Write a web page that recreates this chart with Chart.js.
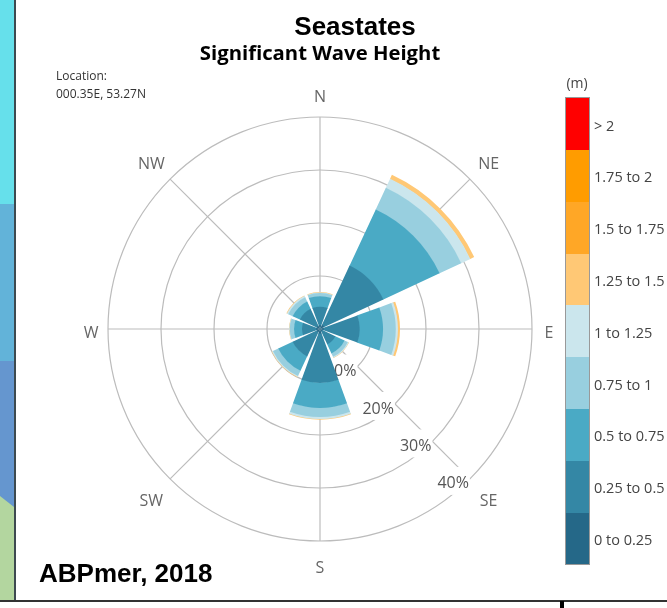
<!DOCTYPE html>
<html>
<head>
<meta charset="utf-8">
<title>Seastates</title>
<script src="https://cdn.jsdelivr.net/npm/chart.js@4/dist/chart.umd.min.js"></script>
<style>
  html, body { margin: 0; padding: 0; background: #fff; }
  #hoja { position: relative; width: 667px; height: 608px; overflow: hidden; }
  #hoja div { position: absolute; white-space: nowrap; }
  canvas { position: absolute; left: 0; top: 0; }
  .centrado { transform: translateX(-50%); }
  .negrita { font-family: "Liberation Sans", sans-serif; font-weight: bold; color: #000; }
  .suave { font-family: "Open Sans", sans-serif; color: #444; }
</style>
</head>
<body>
<div id="hoja">
  <div style="left:0;top:0;width:14px;height:204px;background:#66e0eb"></div>
  <div style="left:0;top:204px;width:14px;height:157px;background:#62b3d9"></div>
  <div style="left:0;top:361px;width:14px;height:147px;background:#6596cf"></div>
  <div style="left:0;top:496px;width:14px;height:105px;background:#b3d69f;clip-path:polygon(0 0,100% 11px,100% 100%,0 100%)"></div>
  <div style="left:14px;top:0;width:2px;height:601px;background:#3d4a50"></div>
  <div style="left:0;top:600px;width:667px;height:2px;background:#333"></div>
  <div style="left:560px;top:601px;width:4px;height:7px;background:#000"></div>

  <canvas id="graficoRosa" width="667" height="608"></canvas>

  <div class="negrita centrado" style="left:355px;top:11px;font-size:26px;line-height:30px">Seastates</div>
  <div class="centrado" style="left:320px;top:39px;font-family:'Open Sans',sans-serif;font-weight:bold;font-size:20.3px;line-height:26px;color:#000">Significant Wave Height</div>
  <div class="suave" style="left:56px;top:67px;font-size:12px;line-height:18px;color:#333">Location:<br>000.35E, 53.27N</div>
  <div class="negrita" style="left:39px;top:558px;font-size:26px;line-height:30px">ABPmer, 2018</div>
  <div class="suave centrado" style="left:577px;top:74px;font-size:14px;line-height:18px">(m)</div>
  <div id="leyenda"></div>
</div>

<script>
var direcciones = ["N", "NE", "E", "SE", "S", "SW", "W", "NW"];
var marcasPorcentaje = [10, 20, 30, 40];

var bandas = ["0 to 0.25", "0.25 to 0.5", "0.5 to 0.75", "0.75 to 1", "1 to 1.25",
  "1.25 to 1.5", "1.5 to 1.75", "1.75 to 2", "> 2"];
var colores = ["#256888", "#3487a5", "#4aaac5", "#98cfdf", "#cbe6ed",
  "#ffc875", "#ffa726", "#ff9c00", "#ff0000"];

// Porcentaje de tiempo por direccion (N, NE, E, SE, S, SW, W, NW), una lista por banda
var banda0 = [0.7, 0.9, 0.7, 0.5, 0.9, 0.7, 0.7, 0.7];
var banda1 = [3.5, 12.3, 6.8, 2.7, 9.3, 5.0, 2.7, 3.5];
var banda2 = [2.0, 11.7, 4.4, 1.9, 4.7, 3.0, 1.5, 1.5];
var banda3 = [0.6, 4.5, 2.4, 0.7, 1.7, 1.1, 0.8, 0.9];
var banda4 = [0.1, 1.9, 0.4, 0.2, 0.4, 0.2, 0.1, 0.3];
var banda5 = [0.1, 0.8, 0.4, 0.05, 0.1, 0.1, 0.05, 0.1];
var banda6 = [0, 0, 0, 0, 0, 0, 0, 0];
var banda7 = [0, 0, 0, 0, 0, 0, 0, 0];
var banda8 = [0, 0, 0, 0, 0, 0, 0, 0];
var valoresBandas = [banda0, banda1, banda2, banda3, banda4, banda5, banda6, banda7, banda8];

var anguloSector = 40;
var anguloHueco = 5;

// Polar area no apila: cada dataset llega hasta el acumulado de su banda.
// Las posiciones impares son los huecos blancos entre sectores.
function construirDatasets() {
  var datasets = [];
  var acumulado = [0, 0, 0, 0, 0, 0, 0, 0];
  for (let i = 0; i < valoresBandas.length; i++) {
    var datos = [];
    for (let d = 0; d < direcciones.length; d++) {
      acumulado[d] += valoresBandas[i][d];
      datos.push(valoresBandas[i][d] > 0 ? acumulado[d] : 0);
      datos.push(0);
    }
    datasets.push({
      label: bandas[i],
      data: datos,
      backgroundColor: colores[i],
      borderWidth: 0,
      angle: function (ctx) {
        return ctx.dataIndex % 2 ? anguloHueco : anguloSector;
      },
    });
  }
  return datasets;
}

function construirEtiquetas() {
  var etiquetas = [];
  for (let d = 0; d < direcciones.length; d++) {
    etiquetas.push(direcciones[d]);
    etiquetas.push("");
  }
  return etiquetas;
}

// Cada banda empieza donde acaba la anterior, asi no asoman colores por los bordes
var pluginAnillos = {
  id: "anillosRosa",
  afterDatasetsUpdate: function (chart) {
    var base = [];
    chart.data.datasets.forEach(function (dataset, i) {
      chart.getDatasetMeta(i).data.forEach(function (arco, j) {
        var anterior = base[j] || 0;
        if (arco.outerRadius > 0) {
          arco.innerRadius = Math.max(anterior - 0.6, 0);
          base[j] = arco.outerRadius;
        }
      });
    });
  },
};

// Lineas de direccion, etiquetas N, NE... y porcentajes sobre la linea SE
var pluginEjes = {
  id: "ejesRosa",
  beforeDatasetsDraw: function (chart) {
    var escala = chart.scales.r;
    var ctx = chart.ctx;
    var cx = escala.xCenter;
    var cy = escala.yCenter;
    var radio = escala.getDistanceFromCenterForValue(40);

    ctx.save();
    ctx.strokeStyle = "#bcbcbc";
    ctx.lineWidth = 1.2;
    for (let d = 0; d < direcciones.length; d++) {
      var a = (d * Math.PI) / 4;
      ctx.beginPath();
      ctx.moveTo(cx, cy);
      ctx.lineTo(cx + radio * Math.sin(a), cy - radio * Math.cos(a));
      ctx.stroke();
    }

    ctx.font = '16px "Open Sans", sans-serif';
    ctx.textBaseline = "middle";
    ctx.textAlign = "center";
    ctx.fillStyle = "#666";
    for (let d = 0; d < direcciones.length; d++) {
      var ang = (d * Math.PI) / 4;
      var valor = d % 2 ? 45 : (d % 4 ? 43.2 : 44.4);
      var r = escala.getDistanceFromCenterForValue(valor);
      ctx.fillText(direcciones[d], cx + r * Math.sin(ang), cy - r * Math.cos(ang) + 4);
    }

    ctx.textAlign = "right";
    for (let m = 0; m < marcasPorcentaje.length; m++) {
      var rm = escala.getDistanceFromCenterForValue(marcasPorcentaje[m]);
      var x = cx + rm * Math.SQRT1_2;
      var y = cy + rm * Math.SQRT1_2;
      ctx.fillStyle = "#fff";
      ctx.fillRect(x - 42, y - 12, 42, 28);
      ctx.fillStyle = "#555";
      ctx.fillText(marcasPorcentaje[m] + "%", x - 1, y + 5);
    }
    ctx.restore();
  },
};

function dibujarLeyenda() {
  var leyenda = document.getElementById("leyenda");
  var arriba = 98;
  var alto = 51.8;
  var html = "";
  for (let i = 0; i < bandas.length; i++) {
    var y = arriba + (bandas.length - 1 - i) * alto;
    html += `<div style="left:566px;top:${y}px;width:23px;height:${alto + 0.3}px;background:${colores[i]}"></div>`;
    html += `<div class="suave" style="left:594px;top:${y + 1.5}px;font-size:14.5px;line-height:${alto}px">${bandas[i].replace(/>/g, "&gt;")}</div>`;
  }
  html += `<div style="left:565px;top:97px;width:23px;height:466px;border:1px solid #999"></div>`;
  leyenda.innerHTML = html;
}

document.addEventListener("DOMContentLoaded", function (event) {
  dibujarLeyenda();

  const ctx = document.getElementById("graficoRosa").getContext("2d");
  new Chart(ctx, {
    type: "polarArea",
    data: {
      labels: construirEtiquetas(),
      datasets: construirDatasets(),
    },
    options: {
      responsive: false,
      animation: false,
      layout: { padding: { left: 108, right: 135, top: 117, bottom: 67 } },
      plugins: { legend: { display: false }, tooltip: { enabled: false } },
      scales: {
        r: {
          min: 0,
          max: 40,
          startAngle: -anguloSector / 2,
          grid: { circular: true, color: "#bcbcbc", lineWidth: 1.2 },
          angleLines: { display: false },
          pointLabels: { display: false },
          ticks: { display: false, stepSize: 10 },
        },
      },
    },
    plugins: [pluginAnillos, pluginEjes],
  });
});
</script>
</body>
</html>
